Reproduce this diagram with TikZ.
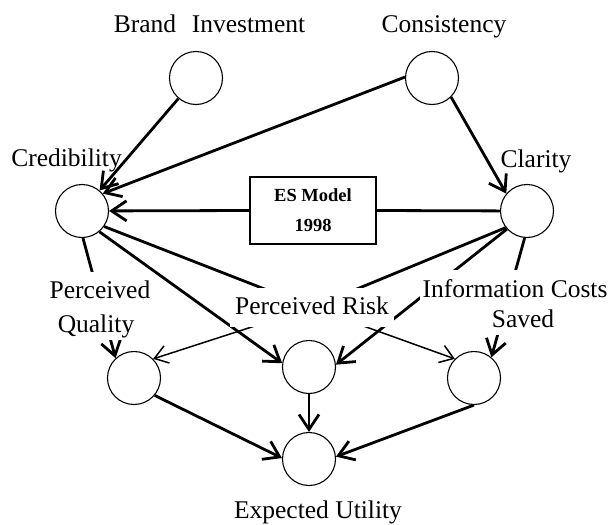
\documentclass[tikz,border=0pt]{standalone}
\usepackage{fontspec}
\setmainfont{Liberation Serif}
\usetikzlibrary{arrows.meta}
\pgfdeclarelayer{back}
\pgfsetlayers{back,main}

\begin{document}
\begin{tikzpicture}[x=1pt,y=-1pt,
  state/.style={circle,draw,line width=1.1pt,minimum size=53pt,inner sep=0pt,fill=white},
  lbl/.style={font=\fontsize{25.5}{30}\selectfont,inner sep=0pt,anchor=base},
  cover/.style={lbl,fill=white,inner xsep=3pt,inner ysep=0pt},
  link/.style={line width=2.8pt},
  arrowlink/.style={link,-{Straight Barb[length=15pt,width=20pt]}},
  thinarrow/.style={line width=1.5pt,-{Straight Barb[length=13pt,width=18pt]}}]
\useasboundingbox (0,0) rectangle (614,525);

% concept circles
\node[state] (brand) at (196,78)  {};
\node[state] (cons)  at (432,78)  {};
\node[state] (cred)  at (82,211)  {};
\node[state] (clar)  at (527,211) {};
\node[state] (qual)  at (134,378) {};
\node[state] (risk)  at (309,367) {};
\node[state] (info)  at (474,378) {};
\node[state] (util)  at (309,459) {};

% model box
\node[draw,line width=1.3pt,minimum width=126pt,minimum height=67pt,inner sep=0pt,
      font=\bfseries\fontsize{18.5}{30}\selectfont,align=center] (es) at (313,210.5)
      {ES Model\\1998};

% labels
\node[lbl] (brandL) at (209.5,32) {Brand\hspace{0.62em}Investment};
\node[lbl] (consL)  at (444,32)   {Consistency};
\node[lbl] (credL)  at (66.5,166) {Credibility};
\node[lbl] (clarL)  at (536,167)  {Clarity};
\node[cover,text height=26pt,text depth=8pt]  (qualL1) at (100,298) {Perceived};
\node[cover,text height=26pt,text depth=8pt]  (qualL2) at (96,332)  {Quality};
\node[cover,inner xsep=5pt,text height=26pt,text depth=13pt] (riskL) at (312,314) {Perceived Risk};
\node[cover,text height=27pt,text depth=4pt]  (infoL1) at (515,297) {Information Costs};
\node[cover,text height=26pt,text depth=8pt]  (infoL2) at (523,327) {Saved};
\node[lbl] (utilL)  at (318,518)  {Expected Utility};

% connectors, drawn beneath circles and labels
\begin{pgfonlayer}{back}
\draw[arrowlink] (brand) -- (cred);
\draw[arrowlink] (cons.178) -- (cred.40);
\draw[arrowlink] (cons.-45) -- (clar.140);
\draw[arrowlink] (es.west) -- (cred);
\draw[link] (es.east) -- (clar);
\draw[arrowlink] (cred.-88) -- (qual.133);
\draw[arrowlink] (clar.-95) -- (info.50);
\draw[link] (cred.-35) -- (riskL.center);
\draw[link] (clar.218) -- (riskL.center);
\draw[arrowlink] (cred.-50) -- (risk.172);
\draw[arrowlink] (clar.222) -- (risk.5);
\draw[thinarrow] (riskL.center) -- (qual.45);
\draw[thinarrow] (riskL.center) -- (info.135);
\draw[arrowlink] (qual.-40) -- (util.178);
\draw[arrowlink] (risk) -- (util);
\draw[arrowlink] (info.-90) -- (util.5);
\end{pgfonlayer}
\end{tikzpicture}
\end{document}
